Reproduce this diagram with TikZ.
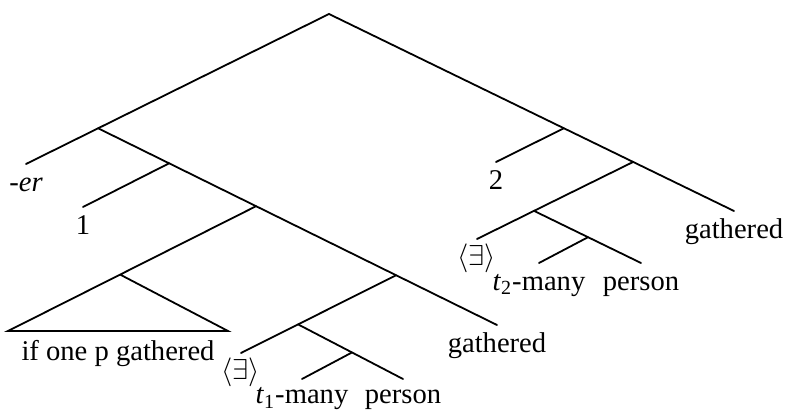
\documentclass[tikz,border=0pt]{standalone}
\usepackage{fontspec}
\setmainfont{Liberation Serif}
\usetikzlibrary{positioning,calc}

\begin{document}
\begin{tikzpicture}[x=0.5pt, y=-0.5pt,
	branch/.style={line width=0.9pt, line cap=round},
	leaf/.style={inner sep=0pt, text height=10pt, text depth=3.2pt, font=\fontsize{14.3}{17}\selectfont},
	node distance=3.6pt]
	\useasboundingbox (0,0) rectangle (788,410);

	\coordinate (root) at (329,14);
	\coordinate (er) at (26,164);
	\coordinate (g1) at (497,325);
	\coordinate (one) at (83,207);
	\coordinate (tl) at (8,331);
	\coordinate (tr) at (228,331);
	\coordinate (ex1) at (241,353);
	\coordinate (p1) at (403,379);
	\coordinate (t1) at (302,379);
	\coordinate (g2) at (734,211);
	\coordinate (two) at (496,162);
	\coordinate (ex2) at (477,239);
	\coordinate (p2) at (641,263);
	\coordinate (t2) at (539,263);

	\coordinate (A) at ($(root)!0.762!(er)$);
	\coordinate (B) at ($(A)!0.178!(g1)$);
	\coordinate (G) at ($(A)!0.396!(g1)$);
	\coordinate (H) at ($(A)!0.747!(g1)$);
	\coordinate (I) at ($(G)!0.548!(tl)$);
	\coordinate (J) at ($(H)!0.632!(ex1)$);
	\coordinate (K) at ($(J)!0.514!(p1)$);
	\coordinate (C) at ($(root)!0.580!(g2)$);
	\coordinate (D) at ($(root)!0.751!(g2)$);
	\coordinate (E) at ($(D)!0.635!(ex2)$);
	\coordinate (F) at ($(E)!0.505!(p2)$);

	\draw[branch] (er) -- (root) -- (g2);
	\draw[branch] (A) -- (g1);
	\draw[branch] (B) -- (one);
	\draw[branch] (G) -- (tl) -- (tr) -- (I);
	\draw[branch] (H) -- (ex1);
	\draw[branch] (J) -- (p1);
	\draw[branch] (K) -- (t1);
	\draw[branch] (C) -- (two);
	\draw[branch] (D) -- (ex2);
	\draw[branch] (E) -- (p2);
	\draw[branch] (F) -- (t2);

	\node[leaf, below=of er] (erL) {\textit{-er}};
	\node[leaf, below=of one] (oneL) {1};
	\node[leaf, below=4.4pt of $(tl)!0.5!(tr)$] (triL) {if one p gathered};
	\node[leaf, below=of ex1, yshift=0.6pt] (ex1L) {$\langle\exists\rangle$};
	\node[leaf, below=2.2pt of t1] (t1L) {\textit{t}\textsubscript{1}-many};
	\node[leaf, below=2.2pt of p1] (p1L) {person};
	\node[leaf, below=of g1] (g1L) {gathered};
	\node[leaf, below=of two] (twoL) {2};
	\node[leaf, below=of g2] (g2L) {gathered};
	\node[leaf, below=of ex2, yshift=0.6pt] (ex2L) {$\langle\exists\rangle$};
	\node[leaf, below=of t2] (t2L) {\textit{t}\textsubscript{2}-many};
	\node[leaf, below=of p2] (p2L) {person};
\end{tikzpicture}
\end{document}
